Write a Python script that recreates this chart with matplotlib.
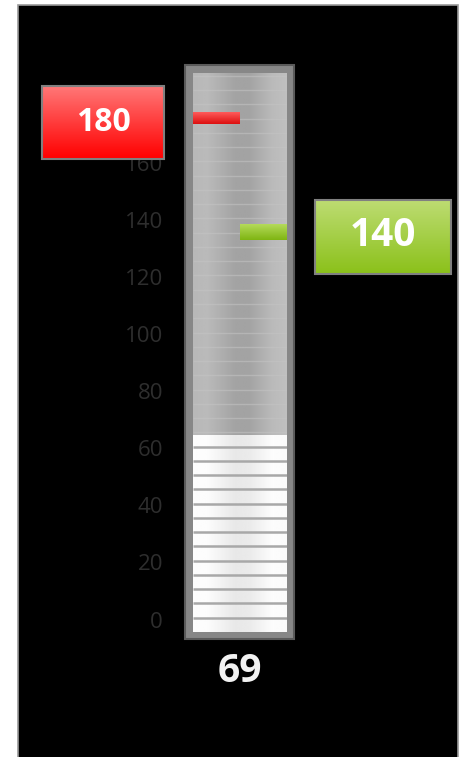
import matplotlib.pyplot as plt
import numpy as np
from matplotlib.colors import LinearSegmentedColormap
from matplotlib.patches import Rectangle

# gauge data
value = 69
target_red = 180
target_green = 140
scale_max = 196
tick_values = [0, 20, 40, 60, 80, 100, 120, 140, 160, 180]
stripe_step = 5

W, H = 463, 757
fig = plt.figure(figsize=(W / 100, H / 100), dpi=100)
fig.patch.set_facecolor('white')


def vgrad(ax, extent, top, bottom, **kw):
    cmap = LinearSegmentedColormap.from_list('g', [top, bottom])
    img = np.linspace(0, 1, 64).reshape(-1, 1)
    return ax.imshow(img, cmap=cmap, extent=extent, aspect='auto',
                     interpolation='bilinear', **kw)


def hgrad(ax, extent, stops, levels, **kw):
    xs = np.linspace(0, 1, 200)
    row = np.interp(xs, stops, levels)
    return ax.imshow(np.tile(row, (2, 1)), cmap='gray', vmin=0, vmax=1,
                     extent=extent, aspect='auto', interpolation='bilinear', **kw)


# black panel and tube frame
bg = fig.add_axes([0, 0, 1, 1])
bg.axis('off')
bg.add_patch(Rectangle((17.5, 4.5), 440, 760, facecolor='black',
                       edgecolor='#9a9a9a', lw=1.2))
bg.add_patch(Rectangle((185, 65), 109, 574, facecolor='#878787',
                       edgecolor='#5a5a5a', lw=1.5))
bg.set_xlim(0, W)
bg.set_ylim(H, 0)

# tube interior in value units
ax = fig.add_axes([193 / W, (H - 632) / H, 94 / W, 559 / H])
ax.axis('off')
hgrad(ax, [0, 1, 0, scale_max], [0, 0.15, 0.45, 0.6, 0.85, 1],
      [0.72, 0.73, 0.64, 0.64, 0.73, 0.75], zorder=0)
ax.hlines(np.arange(stripe_step, scale_max, stripe_step),
          0, 1, color='#c4c4c4', lw=1, alpha=0.55, zorder=1)

bar = ax.bar(0.5, value, width=1, color='white', zorder=2)[0]
fill_img = hgrad(ax, [0, 1, 0, scale_max], [0, 0.15, 0.45, 0.6, 0.85, 1],
                 [0.99, 0.99, 0.91, 0.92, 0.99, 0.98], zorder=2.5)
fill_img.set_clip_path(bar)
ax.hlines(np.arange(stripe_step, value, stripe_step), 0, 1,
          color='#a8a8a8', lw=1.8, zorder=3)

# target markers
vgrad(ax, [0, 0.5, target_red - 2.0, target_red + 2.0], '#ff5a5a', '#dc1010', zorder=4)
vgrad(ax, [0.5, 1, target_green - 2.7, target_green + 2.7], '#b4da5a', '#7fb512', zorder=4)
ax.set_xlim(0, 1)
ax.set_ylim(0, scale_max)

# labels overlay in pixel coordinates
ov = fig.add_axes([0, 0, 1, 1], zorder=5)
ov.axis('off')


def ypix(v):
    return H - ax.transData.transform((0, v))[1]


for t in tick_values:
    ov.text(163, ypix(t) - 10, str(t), ha='right', va='center', zorder=1,
            color='#2e2e2e', fontsize=16, family='Open Sans')

# value boxes
ry = ypix(target_red) + 4
vgrad(ov, [42, 164, ry + 36.5, ry - 36.5], '#ff7777', '#ff0000', zorder=2)
ov.add_patch(Rectangle((42, ry - 36.5), 122, 73, facecolor='none',
                       edgecolor='#808080', lw=1.5, zorder=3))
ov.text(103, ry, str(target_red), ha='center', va='center', color='white', zorder=4,
        fontsize=23, fontweight='bold', family='Open Sans')

gy = ypix(target_green) + 4.5
vgrad(ov, [315, 451, gy + 37, gy - 37], '#bddc72', '#8bc11a', zorder=2)
ov.add_patch(Rectangle((315, gy - 37), 136, 74, facecolor='none',
                       edgecolor='#808080', lw=1.5, zorder=3))
ov.text(383, gy - 2, str(target_green), ha='center', va='center', color='white',
        zorder=4, fontsize=28, fontweight='bold', family='Open Sans')

ov.text(240, 672, str(value), ha='center', va='center', color='#f2f2f2',
        fontsize=28, fontweight='bold', family='Open Sans')

ov.set_xlim(0, W)
ov.set_ylim(H, 0)

fig.savefig('out.png', dpi=100, facecolor=fig.get_facecolor())
